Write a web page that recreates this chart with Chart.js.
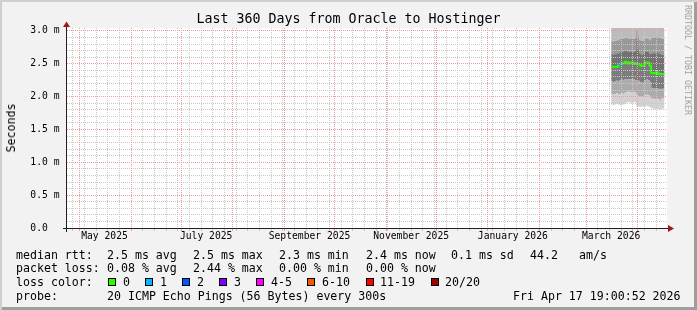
<!DOCTYPE html>
<html>
<head>
<meta charset="utf-8">
<title>Last 360 Days from Oracle to Hostinger</title>
<script src="https://cdn.jsdelivr.net/npm/chart.js@4.4.1/dist/chart.umd.min.js"></script>
<style>
html, body { margin: 0; padding: 0; background: #f2f2f2; }
#wrap { position: relative; width: 697px; height: 310px; overflow: hidden; background: #f2f2f2;
  box-shadow: inset 2px 2px 0 #cfcfcf, inset -3px -3px 0 #9e9e9e; }
#c { position: absolute; left: 0; top: 0; }
.t { position: absolute; font-family: 'DejaVu Sans Mono', monospace; font-size: 11.6px; line-height: 14px; white-space: pre; color: #000; }
.box { position: absolute; width: 8px; height: 8px; box-sizing: border-box; border: 1px solid #000; top: 278px; }
#title { font-size: 13.3px; line-height: 16px; left: 0; width: 697px; text-align: center; top: 11px; }
#ylab { left: 11px; top: 128px; transform: translate(-50%, -50%) rotate(-90deg); }
#mark { left: 688px; top: 60px; font-size: 8.3px; color: #a0a0a0; transform: translate(-50%, -50%) rotate(90deg); }
</style>
</head>
<body>
<div id="wrap">
  <canvas id="c" width="697" height="310"></canvas>
  <div class="t" id="title">Last 360 Days from Oracle to Hostinger</div>
  <div class="t" id="ylab">Seconds</div>
  <div class="t" id="mark">RRDTOOL / TOBI OETIKER</div>

  <div class="t" style="left:16px;top:248px">median rtt:</div>
  <div class="t" style="left:107px;top:248px">2.5 ms avg</div>
  <div class="t" style="left:193px;top:248px">2.5 ms max</div>
  <div class="t" style="left:279px;top:248px">2.3 ms min</div>
  <div class="t" style="left:366px;top:248px">2.4 ms now</div>
  <div class="t" style="left:451px;top:248px">0.1 ms sd</div>
  <div class="t" style="left:530px;top:248px">44.2</div>
  <div class="t" style="left:579px;top:248px">am/s</div>

  <div class="t" style="left:16px;top:261px">packet loss:</div>
  <div class="t" style="left:107px;top:261px">0.08 % avg</div>
  <div class="t" style="left:193px;top:261px">2.44 % max</div>
  <div class="t" style="left:279px;top:261px">0.00 % min</div>
  <div class="t" style="left:366px;top:261px">0.00 % now</div>

  <div class="t" style="left:16px;top:275px">loss color:</div>
  <div class="box" style="left:108px;background:#26ff00"></div><div class="t" style="left:123px;top:275px">0</div>
  <div class="box" style="left:145px;background:#00b8ff"></div><div class="t" style="left:160px;top:275px">1</div>
  <div class="box" style="left:182px;background:#0059ff"></div><div class="t" style="left:197px;top:275px">2</div>
  <div class="box" style="left:219px;background:#7e00ff"></div><div class="t" style="left:234px;top:275px">3</div>
  <div class="box" style="left:256px;background:#ff00ff"></div><div class="t" style="left:271px;top:275px">4-5</div>
  <div class="box" style="left:307px;background:#ff5500"></div><div class="t" style="left:322px;top:275px">6-10</div>
  <div class="box" style="left:366px;background:#ff0000"></div><div class="t" style="left:380px;top:275px">11-19</div>
  <div class="box" style="left:431px;background:#a10000"></div><div class="t" style="left:445px;top:275px">20/20</div>

  <div class="t" style="left:16px;top:289px">probe:</div>
  <div class="t" style="left:107px;top:289px">20 ICMP Echo Pings (56 Bytes) every 300s</div>
  <div class="t" style="left:513px;top:289px">Fri Apr 17 19:00:52 2026</div>
</div>
<script>
const DAY = 86400000;
const graphEnd = Date.UTC(2026, 3, 18, 12);
const graphStart = graphEnd - 360 * DAY;
const smokeStart = Date.UTC(2026, 2, 16);

// x axis labels (centred half a month after the month start)
const monthLabels = ['May 2025', 'July 2025', 'September 2025', 'November 2025', 'January 2026', 'March 2026'];
const monthLabelStarts = ['2025-05-01', '2025-07-01', '2025-09-01', '2025-11-01', '2026-01-01', '2026-03-01'];

// y axis (ms)
const yMax = 3.045;
const yTicks = [0, 0.5, 1.0, 1.5, 2.0, 2.5, 3.0];
const yTickLabels = ['0.0  ', '0.5 m', '1.0 m', '1.5 m', '2.0 m', '2.5 m', '3.0 m'];

// one value per day from 16 Mar 2026 (ms)
const medianRtt = [2.455, 2.455, 2.455, 2.455, 2.455, 2.47, 2.505, 2.505, 2.51, 2.53, 2.525, 2.505, 2.52, 2.52, 2.515, 2.495,
                   2.505, 2.505, 2.48, 2.465, 2.465, 2.52, 2.52, 2.515, 2.47, 2.36, 2.36, 2.355, 2.37, 2.35, 2.35, 2.345];
const lossCount = [0, 0, 0, 0, 0, 1, 0, 0, 0, 0, 0, 0, 0, 0, 0, 0,
                   1, 0, 0, 0, 0, 0, 0, 0, 0, 0, 0, 0, 0, 0, 0, 0];
const smokeMin = [1.88, 1.88, 1.87, 1.88, 1.89, 1.88, 1.87, 1.88, 1.88, 1.89, 1.91, 1.92, 1.91, 1.90, 1.91, 1.92,
                  1.86, 1.85, 1.84, 1.85, 1.84, 1.85, 1.86, 1.85, 1.84, 1.82, 1.82, 1.81, 1.82, 1.81, 1.80, 1.82];
const smokeP10 = [2.03, 2.04, 2.03, 2.04, 2.05, 2.04, 2.04, 2.05, 2.04, 2.06, 2.07, 2.08, 2.07, 2.06, 2.07, 2.06,
                  2.02, 2.01, 2.00, 2.01, 2.00, 2.02, 2.03, 2.02, 2.00, 1.96, 1.97, 1.96, 1.97, 1.96, 1.95, 1.97];
const smokeP25 = [2.22, 2.23, 2.22, 2.23, 2.24, 2.23, 2.25, 2.26, 2.25, 2.27, 2.27, 2.26, 2.27, 2.26, 2.27, 2.25,
                  2.24, 2.24, 2.22, 2.21, 2.21, 2.25, 2.26, 2.25, 2.22, 2.12, 2.13, 2.12, 2.13, 2.12, 2.11, 2.12];
const smokeP75 = [2.64, 2.65, 2.64, 2.65, 2.66, 2.66, 2.68, 2.68, 2.69, 2.71, 2.70, 2.68, 2.69, 2.69, 2.68, 2.70,
                  2.86, 2.72, 2.66, 2.64, 2.65, 2.69, 2.69, 2.68, 2.65, 2.66, 2.67, 2.66, 2.68, 2.66, 2.66, 2.64];
const smokeP90 = [2.83, 2.85, 2.84, 2.85, 2.86, 2.86, 2.88, 2.88, 2.89, 2.91, 2.90, 2.88, 2.89, 2.89, 2.88, 2.90,
                  3.02, 2.92, 2.86, 2.85, 2.85, 2.89, 2.89, 2.88, 2.86, 2.90, 2.91, 2.90, 2.92, 2.90, 2.90, 2.88];
const smokeMax = [3.22, 3.30, 3.31, 3.28, 3.30, 3.33, 3.35, 3.32, 3.34, 3.36, 3.33, 3.31, 3.35, 3.34, 3.30, 3.32,
                  3.45, 3.38, 3.30, 3.28, 3.29, 3.33, 3.35, 3.32, 3.30, 3.31, 3.36, 3.33, 3.35, 3.32, 3.30, 3.24];

const lossColors = ['#26ff00', '#00b8ff', '#0059ff', '#7e00ff', '#ff00ff', '#ff5500', '#ff0000', '#a10000'];
function lossColor(n) {
  if (n <= 3) return lossColors[n];
  if (n <= 5) return lossColors[4];
  if (n <= 10) return lossColors[5];
  if (n <= 19) return lossColors[6];
  return lossColors[7];
}

// daily steps, last value held to the end of its day
function series(values) {
  const pts = values.map((v, i) => ({ x: smokeStart + i * DAY, y: v }));
  pts.push({ x: smokeStart + values.length * DAY, y: values[values.length - 1] });
  return pts;
}

const monthStarts = [];
for (let y = 2025, m = 4; Date.UTC(y, m, 1) < graphEnd; m++) {
  if (m > 11) { m = 0; y++; }
  monthStarts.push(Date.UTC(y, m, 1));
}
const weekStarts = [];
for (let t = Date.UTC(2026, 3, 12); t > graphStart; t -= 7 * DAY) weekStarts.unshift(t);
// minor grid every 0.1 ms, skipping the major lines
const yMinorTicks = [];
for (let k = 1; k <= 30; k++) if (k % 5) yMinorTicks.push(k / 10);

const mono = 'DejaVu Sans Mono';
const fixW = w => s => { s.width = w; };
const fixH = h => s => { s.height = h; };

function band(values, color) {
  return {
    data: series(values), stepped: 'after', fill: '-1', backgroundColor: color, xAxisID: 'x', yAxisID: 'y',
    borderColor: 'rgba(0,0,0,0)', borderWidth: 0, pointRadius: 0
  };
}

const frame = {
  id: 'frame',
  beforeDraw(chart) {
    const { ctx, chartArea: a } = chart;
    ctx.save();
    ctx.fillStyle = '#ffffff';
    ctx.fillRect(a.left, a.top, a.right - a.left, a.bottom - a.top);
    ctx.restore();
  },
  afterDraw(chart) {
    const { ctx, chartArea: a } = chart;
    const ax = a.left - 0.5, ay = a.bottom + 0.5;
    ctx.save();
    ctx.strokeStyle = '#202020';
    ctx.lineWidth = 1;
    ctx.beginPath();
    ctx.moveTo(a.left - 4, ay); ctx.lineTo(a.right + 1, ay);
    ctx.moveTo(ax, a.bottom + 4); ctx.lineTo(ax, a.top - 1);
    ctx.stroke();
    ctx.fillStyle = '#a01818';
    ctx.beginPath();
    ctx.moveTo(ax, a.top - 6.5); ctx.lineTo(ax - 3.5, a.top - 1); ctx.lineTo(ax + 3.5, a.top - 1);
    ctx.closePath(); ctx.fill();
    ctx.beginPath();
    ctx.moveTo(a.right + 7, ay); ctx.lineTo(a.right + 1, ay - 3.5); ctx.lineTo(a.right + 1, ay + 3.5);
    ctx.closePath(); ctx.fill();
    ctx.restore();
  }
};

new Chart(document.getElementById('c'), {
  type: 'line',
  data: {
    datasets: [
      { data: series(smokeMin), stepped: 'after', fill: false, xAxisID: 'x', yAxisID: 'y',
        borderColor: 'rgba(0,0,0,0)', borderWidth: 0, pointRadius: 0 },
      band(smokeP10, '#d2d2d2'),
      band(smokeP25, '#ababab'),
      band(medianRtt, '#7c7c7c'),
      band(smokeP75, '#727272'),
      band(smokeP90, '#999999'),
      band(smokeMax, '#bbbbbb'),
      {
        label: 'median rtt', data: series(medianRtt), stepped: 'after', fill: false, order: -1,
        xAxisID: 'x', yAxisID: 'y', borderWidth: 2, pointRadius: 0, borderColor: '#26ff00',
        segment: { borderColor: c => lossColor(lossCount[c.p0DataIndex] || 0) }
      }
    ]
  },
  options: {
    responsive: false,
    animation: false,
    events: [],
    layout: { autoPadding: false, padding: { left: 0, top: 28, right: 30, bottom: 0 } },
    plugins: { legend: { display: false }, tooltip: { enabled: false } },
    scales: {
      y: {
        type: 'linear', position: 'left', min: 0, max: yMax, afterFit: fixW(67),
        afterBuildTicks: s => { s.ticks = yTicks.map(v => ({ value: v })); },
        ticks: {
          padding: 7.5, autoSkip: false, color: '#000', font: { family: mono, size: 9.7 },
          callback: (v, i) => yTickLabels[i]
        },
        grid: { color: '#f29a9a', drawTicks: false, z: 2 },
        border: { display: false, dash: [1, 1] }
      },
      yMinor: {
        type: 'linear', position: 'left', min: 0, max: yMax, afterFit: fixW(0),
        afterBuildTicks: s => { s.ticks = yMinorTicks.map(v => ({ value: v })); },
        ticks: { display: false },
        grid: { color: '#c8c8c8', drawTicks: false, z: 1 },
        border: { display: false, dash: [1, 1] }
      },
      xWeek: {
        type: 'linear', position: 'bottom', min: graphStart, max: graphEnd, afterFit: fixH(0),
        afterBuildTicks: s => { s.ticks = weekStarts.map(v => ({ value: v })); },
        ticks: { display: false },
        grid: { color: '#c8c8c8', tickColor: '#c8c8c8', tickLength: 3, z: 1 },
        border: { display: false, dash: [1, 1] }
      },
      x: {
        type: 'linear', position: 'bottom', min: graphStart, max: graphEnd, afterFit: fixH(0),
        afterBuildTicks: s => { s.ticks = monthStarts.map(v => ({ value: v })); },
        ticks: { display: false },
        grid: { color: '#f29a9a', tickColor: '#f29a9a', tickLength: 3, z: 2 },
        border: { display: false, dash: [1, 1] }
      },
      xLabel: {
        type: 'linear', position: 'bottom', min: graphStart, max: graphEnd, afterFit: fixH(82),
        afterBuildTicks: s => { s.ticks = monthLabelStarts.map(d => ({ value: Date.parse(d + 'T00:00:00Z') + 15 * DAY })); },
        ticks: {
          autoSkip: false, maxRotation: 0, padding: 3, color: '#000', font: { family: mono, size: 9.7 },
          callback: (v, i) => monthLabels[i]
        },
        grid: { display: false, drawTicks: false },
        border: { display: false }
      }
    }
  },
  plugins: [frame]
});
</script>
</body>
</html>
